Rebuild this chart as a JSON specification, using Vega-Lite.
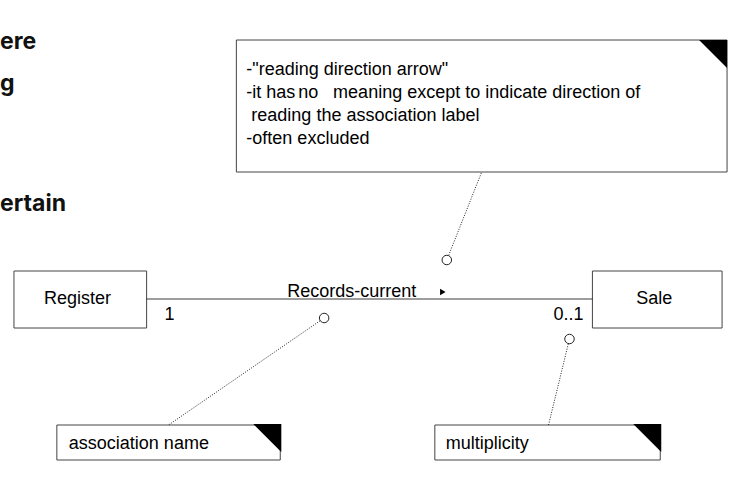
{
"$schema":"https://vega.github.io/schema/vega-lite/v6.json",
"width":748,"height":482,"padding":0,
"autosize":{"type":"fit","contains":"padding"},
"config":{"view":{"stroke":null},"axis":{"disable":true}},
"datasets":{
"boxes":[{"x":235,"x2":727,"y":40,"y2":172},{"x":12,"x2":145,"y":271,"y2":328},{"x":592,"x2":722,"y":271,"y2":328},{"x":55,"x2":279,"y":425,"y2":460},{"x":434,"x2":660,"y":425,"y2":460}],
"corners":[{"x":713,"y":54},{"x":266,"y":438},{"x":647,"y":438}],
"lines":[{"x":145,"x2":592,"y":299,"y2":299,"d":"solid"},{"x":446,"x2":481,"y":260,"y2":172,"d":"dot"},{"x":323,"x2":167,"y":318,"y2":425,"d":"dot"},{"x":569,"x2":548,"y":339,"y2":425,"d":"dot"}],
"circles":[{"x":446,"y":260},{"x":323,"y":318},{"x":569,"y":339}],
"labels":[{"x":245,"y":70,"t":"-\"reading direction arrow\"","w":"normal","s":"normal"},{"x":245,"y":93,"t":"-it has","w":"normal","s":"normal"},{"x":297,"y":93,"t":"no","w":"bold","s":"italic"},{"x":332,"y":93,"t":"meaning except to indicate direction of","w":"normal","s":"normal"},{"x":250,"y":116,"t":"reading the association label","w":"normal","s":"normal"},{"x":245,"y":139,"t":"-often excluded","w":"normal","s":"normal"},{"x":42,"y":299,"t":"Register","w":"normal","s":"normal"},{"x":636,"y":299,"t":"Sale","w":"normal","s":"normal"},{"x":286,"y":292,"t":"Records-current","w":"normal","s":"normal"},{"x":163,"y":315,"t":"1","w":"normal","s":"normal"},{"x":553,"y":315,"t":"0..1","w":"normal","s":"normal"},{"x":67,"y":444,"t":"association name","w":"normal","s":"normal"},{"x":445,"y":444,"t":"multiplicity","w":"normal","s":"normal"}],
"bg":[{"x":-2,"y":42,"t":"ere"},{"x":-2,"y":84,"t":"g"},{"x":-2,"y":204,"t":"ertain"}]
},
"layer":[
{"data":{"name":"bg"},"mark":{"type":"text","align":"left","baseline":"middle","font":"Inter","fontWeight":"bold","fontSize":23,"color":"#111"},
 "encoding":{"x":{"field":"x","type":"quantitative","scale":{"domain":[0,748],"nice":false,"zero":false}},"y":{"field":"y","type":"quantitative","scale":{"domain":[0,482],"reverse":true,"nice":false,"zero":false}},"text":{"field":"t"}}},
{"data":{"name":"boxes"},"mark":{"type":"rect","fill":"white","stroke":"#444","strokeWidth":1},
 "encoding":{"x":{"field":"x","type":"quantitative"},"x2":{"field":"x2"},"y":{"field":"y","type":"quantitative"},"y2":{"field":"y2"}}},
{"data":{"name":"lines"},"mark":{"type":"rule","color":"#222"},
 "encoding":{"x":{"field":"x","type":"quantitative"},"x2":{"field":"x2"},"y":{"field":"y","type":"quantitative"},"y2":{"field":"y2"},
 "strokeDash":{"field":"d","type":"nominal","scale":{"domain":["solid","dot"],"range":[[1,0],[1,1.5]]},"legend":null}}},
{"data":{"name":"corners"},"mark":{"type":"point","shape":"M -1 -1 L 1 -1 L 1 1 Z","filled":true,"color":"black","size":784,"opacity":1},
 "encoding":{"x":{"field":"x","type":"quantitative"},"y":{"field":"y","type":"quantitative"}}},
{"data":{"name":"circles"},"mark":{"type":"point","shape":"circle","fill":"white","stroke":"#222","strokeWidth":1,"size":90,"opacity":1},
 "encoding":{"x":{"field":"x","type":"quantitative"},"y":{"field":"y","type":"quantitative"}}},
{"data":{"values":[{"x":442,"y":292}]},"mark":{"type":"point","shape":"triangle-right","filled":true,"color":"black","size":40,"opacity":1},
 "encoding":{"x":{"field":"x","type":"quantitative"},"y":{"field":"y","type":"quantitative"}}},
{"data":{"name":"labels"},"mark":{"type":"text","align":"left","baseline":"middle","font":"Liberation Sans","fontSize":18,"color":"black"},
 "encoding":{"x":{"field":"x","type":"quantitative"},"y":{"field":"y","type":"quantitative"},"text":{"field":"t"},
 "fontWeight":{"field":"w","type":"nominal","scale":null},"fontStyle":{"field":"s","type":"nominal","scale":null}}}
]
}
